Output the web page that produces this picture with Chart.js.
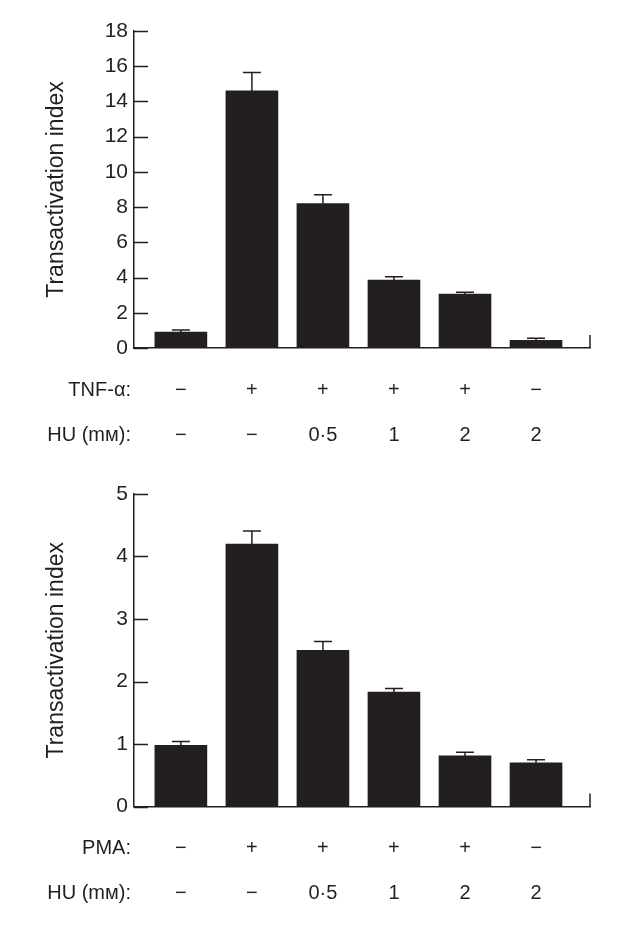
<!DOCTYPE html>
<html>
<head>
<meta charset="utf-8">
<script src="https://cdn.jsdelivr.net/npm/chart.js@4"></script>
<style>
  body { margin: 0; background: #fff; }
  .panel { position: absolute; left: 0; width: 634px; height: 465px; }
  #p1 { top: 0; }
  #p2 { top: 465px; }
</style>
</head>
<body>
<div class="panel" id="p1"><canvas id="c1" width="634" height="465"></canvas></div>
<div class="panel" id="p2"><canvas id="c2" width="634" height="465"></canvas></div>
<script>
// --- data ---
const lanes = [0, 1, 2, 3, 4, 5];
const tnfRow = ['\u2212', '+', '+', '+', '+', '\u2212'];
const pmaRow = ['\u2212', '+', '+', '+', '+', '\u2212'];
const huRow = ['\u2212', '\u2212', '0\u00b75', '1', '2', '2'];

const tnfMeans = [0.9, 14.6, 8.2, 3.86, 3.06, 0.44];
const tnfErrors = [0.12, 1.05, 0.5, 0.19, 0.1, 0.11];
const pmaMeans = [0.98, 4.2, 2.5, 1.83, 0.81, 0.70];
const pmaErrors = [0.06, 0.21, 0.14, 0.06, 0.06, 0.05];

const topMax = 18, topStep = 2;
const bottomMax = 5, bottomStep = 1;

const INK = '#231f20';
const FONT = '"Liberation Sans", Arial, sans-serif';

// error bars (upper half only), inward y ticks, end tick and condition rows
const decorations = {
  id: 'decorations',
  afterDatasetsDraw(chart, args, opts) {
    const ctx = chart.ctx;
    const y = chart.scales.y;
    const meta = chart.getDatasetMeta(0);
    ctx.save();
    ctx.strokeStyle = INK;
    ctx.lineWidth = 1.5;
    meta.data.forEach((bar, i) => {
      const top = y.getPixelForValue(opts.means[i] + opts.errors[i]);
      ctx.beginPath();
      ctx.moveTo(bar.x, bar.y);
      ctx.lineTo(bar.x, top);
      ctx.moveTo(bar.x - 9, top);
      ctx.lineTo(bar.x + 9, top);
      ctx.stroke();
    });
    ctx.restore();
  },
  afterDraw(chart, args, opts) {
    const ctx = chart.ctx;
    const area = chart.chartArea;
    const x = chart.scales.x;
    const y = chart.scales.y;
    ctx.save();
    ctx.strokeStyle = INK;
    ctx.lineWidth = 1.5;
    ctx.beginPath();
    y.ticks.forEach(t => {
      const py = Math.round(y.getPixelForValue(t.value)) + 0.5;
      ctx.moveTo(area.left, py);
      ctx.lineTo(area.left + 14, py);
    });
    ctx.moveTo(area.right, area.bottom);
    ctx.lineTo(area.right, area.bottom - 13);
    ctx.stroke();

    ctx.fillStyle = INK;
    ctx.font = '20px ' + FONT;
    ctx.textBaseline = 'middle';
    opts.rows.forEach((row, r) => {
      const py = area.bottom + 42 + r * 45;
      ctx.textAlign = 'right';
      ctx.fillText(row.label, 131, py);
      ctx.textAlign = 'center';
      row.values.forEach((v, i) => {
        ctx.fillText(v, x.getPixelForValue(lanes[i]), py);
      });
    });
    ctx.restore();
  }
};

function makeChart(id, means, errors, max, step, rows, padTop, padBottom) {
  return new Chart(document.getElementById(id), {
    type: 'bar',
    data: {
      datasets: [{
        data: lanes.map((l, i) => ({ x: l, y: means[i] })),
        backgroundColor: INK,
        borderWidth: 0,
        barThickness: 52,
      }],
    },
    options: {
      responsive: false,
      animation: false,
      devicePixelRatio: 1,
      layout: { padding: { left: 0, right: 44, top: padTop, bottom: padBottom } },
      scales: {
        x: {
          type: 'linear',
          min: -0.66,
          max: 5.76,
          offset: false,
          grid: { display: false },
          ticks: { display: false },
          border: { display: true, color: INK, width: 1.5 },
          afterFit(scale) { scale.height = 0; },
        },
        y: {
          min: 0,
          max: max,
          grid: { display: false, drawTicks: false },
          border: { display: true, color: INK, width: 1.5 },
          ticks: {
            stepSize: step,
            padding: 6,
            color: INK,
            font: { family: FONT, size: 21 },
          },
          title: {
            display: true,
            text: 'Transactivation index',
            color: INK,
            font: { family: FONT, size: 23 },
            padding: { top: 43, bottom: 0 },
          },
          afterFit(scale) { scale.width = 134; },
        },
      },
      plugins: {
        legend: { display: false },
        tooltip: { enabled: false },
        decorations: { means, errors, rows },
      },
    },
    plugins: [decorations],
  });
}

makeChart('c1', tnfMeans, tnfErrors, topMax, topStep,
  [{ label: 'TNF-\u03b1:', values: tnfRow }, { label: 'HU (m\u1d0d):', values: huRow }],
  31, 117);

makeChart('c2', pmaMeans, pmaErrors, bottomMax, bottomStep,
  [{ label: 'PMA:', values: pmaRow }, { label: 'HU (m\u1d0d):', values: huRow }],
  29, 123.5);
</script>
</body>
</html>
